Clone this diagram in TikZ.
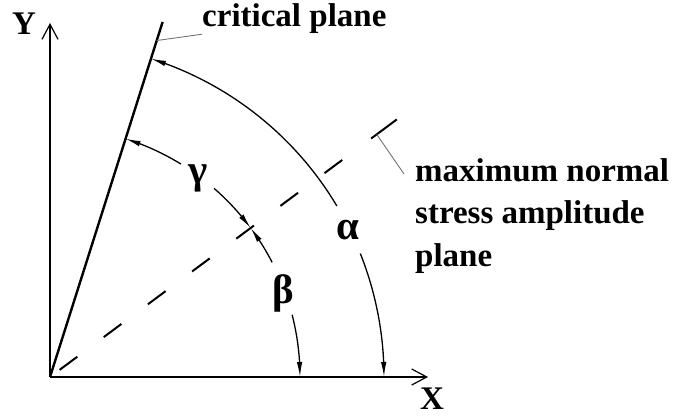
\documentclass[tikz,border=0pt]{standalone}
\usepackage{fontspec}
\setmainfont{Liberation Serif}
\usetikzlibrary{arrows.meta,bending}

\begin{document}
\begin{tikzpicture}[x=1pt,y=1pt,font=\fontsize{33}{42.5}\selectfont\bfseries]
\tikzset{axis/.style={line width=2.6pt,-{Straight Barb[length=15pt,width=16pt,line width=1.2pt]}},
  plane/.style={line width=2.4pt},
  normalplane/.style={line width=2pt,dash pattern=on 22pt off 33pt,dash phase=43pt},
  anglearrow/.style={line width=1.3pt,-{Latex[length=15pt,width=5.5pt,flex]}},
  leader/.style={line width=0.9pt,black!55},
  greek/.style={font=\fontsize{41}{43}\selectfont\bfseries}}
\useasboundingbox (-50,-39) rectangle (625,377);
% axes
\coordinate (o) at (0,0);
\coordinate (xend) at (378,0);
\coordinate (yend) at (0,354);
\node (x) at (382,-22) [inner sep=0pt] {X};
\node (y) at (-26,353) [inner sep=0pt] {Y};
\draw[axis] (o) -- (xend);
\draw[axis] (o) -- (yend);
% critical plane
\coordinate (c) at (72.4:372.5pt);
\coordinate (c1) at (72.4:353pt);
\node (cp) at (152,350) [anchor=base west,inner sep=0pt] {critical plane};
\draw[plane] (o) -- (c);
\draw[leader] (c1) -- (cp.south west);
% maximum normal stress amplitude plane
\coordinate (m0) at (36.6:390pt);
\coordinate (t1) at (36.6:400pt);
\coordinate (t2) at (36.6:432pt);
\coordinate (m1) at (36.6:407pt);
\coordinate (m2) at (354,203);
\node (mn) at (365,219) [anchor=north west,inner sep=0pt,align=left] {maximum normal\\stress amplitude\\plane};
\draw[normalplane] (o) -- (m0);
\draw[line width=2pt] (t1) -- (t2);
\draw[leader] (m1) -- (m2);
% angles
\draw[anglearrow] (30.8:334pt) arc[start angle=30.8,end angle=72.4,radius=334pt];
\draw[anglearrow] (21.7:334pt) arc[start angle=21.7,end angle=0,radius=334pt];
\draw[anglearrow] (14.4:250pt) arc[start angle=14.4,end angle=0,radius=250pt];
\draw[anglearrow] (27.3:250pt) arc[start angle=27.3,end angle=36.6,radius=250pt];
\draw[anglearrow] (49:250pt) arc[start angle=49,end angle=36.6,radius=250pt];
\draw[anglearrow] (58.4:250pt) arc[start angle=58.4,end angle=72.4,radius=250pt];
\node (a) at (26.3:332pt) [greek] {α};
\node (b) at (233,84) [greek] {β};
\node (g) at (148,199) [greek] {γ};
\end{tikzpicture}
\end{document}
